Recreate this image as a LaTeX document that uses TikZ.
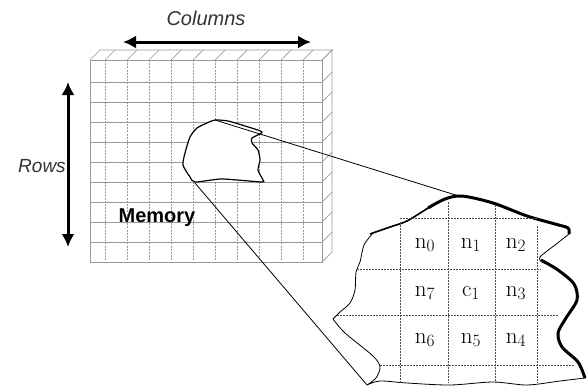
\documentclass[tikz,border=0pt]{standalone}
\usepackage{fontspec}
\newfontfamily\arial{Liberation Sans}
\usetikzlibrary{arrows.meta}
\tikzset{
    gridh/.style={draw=gray!80, line width=0.7pt},
    gridv/.style={draw=gray!80, line width=0.7pt, dash pattern=on 2pt off 1.2pt},
    zgrid/.style={draw=black!70, line width=0.6pt, dash pattern=on 1.5pt off 1.5pt},
    dblarrow/.style={{Latex[length=13pt,width=13pt]}-{Latex[length=13pt,width=13pt]}, line width=3pt},
    axislabel/.style={font=\arial\itshape\fontsize{19}{19}\selectfont, text=black!80},
    cell/.style={font=\fontsize{23}{23}\selectfont},
    zoomline/.style={draw=black, line width=0.8pt},
}

\begin{document}
\begin{tikzpicture}[x=1pt,y=-1pt]
    \useasboundingbox (0,0) rectangle (588,391);
    % memory block: front face, top and side
    \draw[gridh] (90,60) -- (100,50) -- (332,50) -- (322,60);
    \draw[gridh] (322,60) -- (332,50) -- (332,252) -- (322,262);
    \foreach \x in {105,127,...,303} {
        \draw[gridv] (\x,60) -- (\x,262);
        \draw[gridh] (\x,60) -- (\x+10,50);
    }
    \foreach \y in {82,102,...,242} {
        \draw[gridh] (90,\y) -- (322,\y);
        \draw[gridh] (322,\y) -- (332,\y-10);
    }
    \draw[gridh] (90,60) rectangle (322,262);
    % the picked region
    \draw[black, line width=1.2pt, fill=white] plot[smooth cycle, tension=0.4] coordinates {
        (215,120) (228,121) (245,126) (262,132) (252,138) (252,143) (258,150)
        (260,160) (258,170) (263,180) (262,182) (237,180) (220,179) (195,182)
        (190,177) (183,165) (185,153) (190,137) (197,128) (207,123)};
    \coordinate (rtop) at (215,120);
    \coordinate (rbot) at (195,183);

    \node[axislabel, font=\arial\itshape\fontsize{20}{20}\selectfont] (cols) at (206,18) {Columns};
    \node[axislabel] (rows) at (42,166) {Rows};
    \node[font=\arial\bfseries\fontsize{20}{20}\selectfont] (mem) at (157,218) {Memory};
    \coordinate (cl) at (123,42);
    \coordinate (cr) at (311,42);
    \coordinate (rt) at (68,82);
    \coordinate (rb) at (68,247);
    \draw[dblarrow] (cl) -- (cr);
    \draw[dblarrow] (rt) -- (rb);

    % magnified patch
    \coordinate (ptop) at (462,197);
    \coordinate (pbot) at (367,385);
    \draw[line width=0.8pt, fill=white] plot[smooth, tension=0.5] coordinates {
        (373,233) (364,245) (360,262) (356,272) (355,290) (350,303) (340,312) (333,319)}
        -- plot[smooth, tension=0.5] coordinates {(333,319) (345,333) (373,356) (380,367) (376,378) (367,385)}
        -- plot[smooth, tension=0.5] coordinates {(367,385) (380,381) (407,383) (450,385) (493,382) (527,385) (560,381) (585,378)}
        -- plot[smooth, tension=0.5] coordinates {(585,378) (578,362) (562,347) (558,333) (566,318) (577,300) (574,284) (558,270) (542,262)}
        -- plot[smooth, tension=0.5] coordinates {(542,262) (540,257) (555,245) (569,234)}
        -- plot[smooth, tension=0.5] coordinates {(569,234) (568,227) (555,224) (527,216) (493,203) (462,196) (445,199) (428,208) (407,221) (390,227) (373,233)};
    \draw[line width=1.6pt] plot[smooth, tension=0.5] coordinates {(370,234) (390,227) (407,221) (428,208)};
    \draw[line width=3pt] plot[smooth, tension=0.5] coordinates {(428,208) (445,199) (462,196) (493,203) (527,216) (555,224) (568,228) (569,234)};
    \draw[line width=3pt] plot[smooth, tension=0.5] coordinates {(541,260) (558,270) (574,284) (577,300) (566,318) (558,333) (562,347) (578,362) (585,378)};
    \foreach \x/\a in {400/222, 448/202, 495/205, 537/226}
        \draw[zgrid] (\x,\a) -- (\x,383);
    \draw[zgrid] (400,218) -- (537,218);
    \draw[zgrid] (357,269) -- (541,269);
    \draw[zgrid] (337,315) -- (558,315);
    \draw[zgrid] (380,365) -- (575,365);
    \node[cell] (n0) at (425,245) {$\mathrm{n}_0$};
    \node[cell] (n1) at (471,245) {$\mathrm{n}_1$};
    \node[cell] (n2) at (516,245) {$\mathrm{n}_2$};
    \node[cell] (n7) at (425,293) {$\mathrm{n}_7$};
    \node[cell] (c1) at (471,293) {$\mathrm{c}_1$};
    \node[cell] (n3) at (516,293) {$\mathrm{n}_3$};
    \node[cell] (n6) at (425,340) {$\mathrm{n}_6$};
    \node[cell] (n5) at (471,340) {$\mathrm{n}_5$};
    \node[cell] (n4) at (516,340) {$\mathrm{n}_4$};

    % lines from the region out to the patch
    \draw[zoomline] (rtop) -- (ptop);
    \draw[zoomline] (rbot) -- (pbot);
\end{tikzpicture}
\end{document}
